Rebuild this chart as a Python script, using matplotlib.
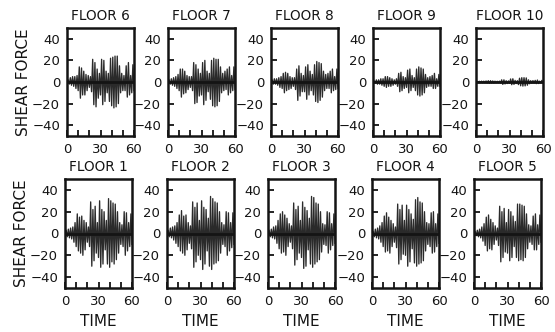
import matplotlib
matplotlib.use("Agg")
import matplotlib.pyplot as plt
import numpy as np

time = list(range(0, 61))

floors = [6, 7, 8, 9, 10, 1, 2, 3, 4, 5]

floor_1 = [0, 3, -3, 4, -4, 5, -5, 6, -8, 10, -12, 18, -16, 15, -18, 16, -20, 12, -15, 10, -8,
           6, -12, 29, -30, 22, -25, 25, -18, 10, -22, 30, -31, 22, -28, 20, -15, 12, -28, 32, -31,
           30, -26, 28, -28, 27, -24, 20, -18, 10, -10, 8, -12, 20, -20, 19, -16, 10, -12, 18, -10]
floor_2 = [0, 3, -3, 5, -4, 6, -6, 7, -9, 10, -12, 17, -16, 21, -18, 16, -20, 17, -15, 10, -9,
           7, -14, 29, -31, 24, -26, 28, -20, 12, -24, 30, -33, 24, -28, 22, -16, 14, -30, 34, -33,
           32, -28, 29, -27, 28, -25, 20, -18, 10, -10, 8, -12, 20, -20, 19, -16, 10, -13, 19, -10]
floor_3 = [0, 3, -3, 4, -4, 6, -5, 7, -9, 12, -14, 18, -18, 20, -17, 17, -20, 14, -12, 9, -8,
           7, -14, 28, -29, 22, -24, 25, -18, 12, -22, 29, -32, 24, -30, 21, -15, 14, -28, 34, -31,
           33, -28, 28, -26, 27, -24, 20, -17, 9, -10, 8, -11, 20, -18, 19, -15, 9, -11, 18, -9]
floor_4 = [0, 2, -3, 4, -4, 5, -5, 7, -8, 10, -12, 16, -17, 19, -16, 15, -18, 12, -12, 9, -8,
           6, -13, 27, -28, 22, -24, 26, -19, 12, -20, 26, -30, 22, -26, 18, -14, 13, -27, 31, -30,
           33, -28, 29, -27, 28, -25, 20, -16, 10, -10, 9, -12, 19, -18, 20, -17, 9, -12, 18, -9]
floor_5 = [0, 2, -2, 3, -3, 4, -4, 6, -7, 9, -11, 15, -16, 17, -14, 13, -15, 10, -10, 7, -6,
           5, -11, 25, -26, 20, -22, 23, -17, 10, -18, 22, -25, 20, -22, 16, -12, 11, -22, 27, -25,
           27, -24, 26, -25, 25, -22, 18, -14, 8, -8, 7, -10, 16, -15, 18, -15, 8, -10, 17, -8]
floor_6 = [0, 2, -2, 4, -3, 5, -4, 5, -6, 6, -8, 14, -15, 13, -12, 10, -12, 7, -8, 6, -5,
           5, -9, 21, -21, 18, -23, 12, -15, 8, -12, 21, -21, 20, -18, 10, -10, 8, -18, 22, -22,
           23, -24, 24, -23, 24, -20, 15, -10, 8, -8, 6, -8, 15, -14, 18, -12, 6, -10, 16, -8]
floor_7 = [0, 2, -2, 3, -3, 4, -4, 5, -6, 7, -8, 12, -14, 12, -11, 10, -10, 6, -7, 5, -5,
           5, -8, 18, -20, 16, -19, 12, -13, 8, -12, 18, -21, 20, -17, 10, -9, 8, -16, 20, -22,
           22, -23, 21, -22, 21, -18, 14, -10, 8, -8, 10, -7, 12, -12, 14, -10, 6, -8, 14, -7]
floor_8 = [0, 2, -2, 3, -2, 3, -3, 4, -5, 5, -6, 8, -10, 9, -8, 8, -7, 5, -6, 4, -4,
           4, -7, 12, -17, 15, -13, 8, -9, 6, -9, 14, -16, 16, -12, 10, -8, 7, -12, 16, -18,
           19, -19, 18, -17, 17, -14, 10, -8, 7, -6, 8, -6, 10, -10, 12, -8, 5, -7, 12, -6]
floor_9 = [0, 1, -1, 2, -2, 2, -2, 3, -3, 3, -4, 5, -5, 5, -4, 4, -4, 3, -3, 2, -2,
           3, -4, 8, -9, 9, -8, 5, -6, 4, -5, 11, -10, 12, -8, 6, -5, 4, -8, 12, -12,
           14, -13, 13, -12, 12, -10, 7, -5, 4, -4, 5, -4, 6, -6, 8, -6, 3, -4, 7, -4]
floor_10 = [0, 0.5, -0.5, 0.7, -0.6, 0.8, -0.7, 0.8, -0.8, 1, -1, 1.2, -1.2, 1.2, -1, 1, -1,
            0.8, -0.8, 0.7, -0.7, 0.8, -1, 2, -2.2, 2, -1.8, 1.2, -1.4, 1, -1.2, 2.8, -2.5, 3,
            -2.2, 1.5, -1.4, 1.2, -2.4, 3.5, -3.5, 4, -3.8, 4, -3.6, 3.8, -3, 2, -1.6, 1.2, -1.2,
            1.3, -1.1, 1.5, -1.5, 1.8, -1.4, 0.8, -1, 1.5, -0.8]

series = {1: floor_1, 2: floor_2, 3: floor_3, 4: floor_4, 5: floor_5,
          6: floor_6, 7: floor_7, 8: floor_8, 9: floor_9, 10: floor_10}

xticks = [0, 30, 60]
yticks = [-40, -20, 0, 20, 40]

W, H = 555, 332
fig = plt.figure(figsize=(W / 100, H / 100), dpi=100)

lefts_top = [67, 168, 271, 373, 476]
lefts_bot = [65, 167, 268, 372, 474]
aw = 67
top_row = (28, 136)
bot_row = (179, 288)

ink = "#141414"
for i, fl in enumerate(floors):
    row = 0 if i < 5 else 1
    col = i % 5
    left = (lefts_top if row == 0 else lefts_bot)[col]
    y0, y1 = top_row if row == 0 else bot_row
    ax = fig.add_axes([left / W, 1 - y1 / H, aw / W, (y1 - y0) / H])
    ax.plot(time, series[fl], color="#2a2a2a", lw=0.95)
    ax.axhline(0, color=ink, lw=2.0)
    ax.set_xlim(0, 60)
    ax.set_ylim(-50, 50)
    ax.set_xticks(xticks)
    ax.set_xticks([10, 20, 40, 50], minor=True)
    ax.set_yticks(yticks)
    ax.tick_params(which="both", direction="in", length=4, width=1.3, colors=ink,
                   labelsize=9.5, top=False, right=False, pad=5)
    for s in ax.spines.values():
        s.set_linewidth(1.8)
        s.set_color(ink)
    ax.set_title(f"FLOOR {fl}", fontsize=9.8, pad=6, color=ink)
    if col == 0:
        ax.set_ylabel("SHEAR FORCE", fontsize=11, color=ink, labelpad=1)
    if row == 1:
        ax.set_xlabel("TIME", fontsize=11, color=ink, labelpad=4)

fig.savefig("out.png", dpi=100)
